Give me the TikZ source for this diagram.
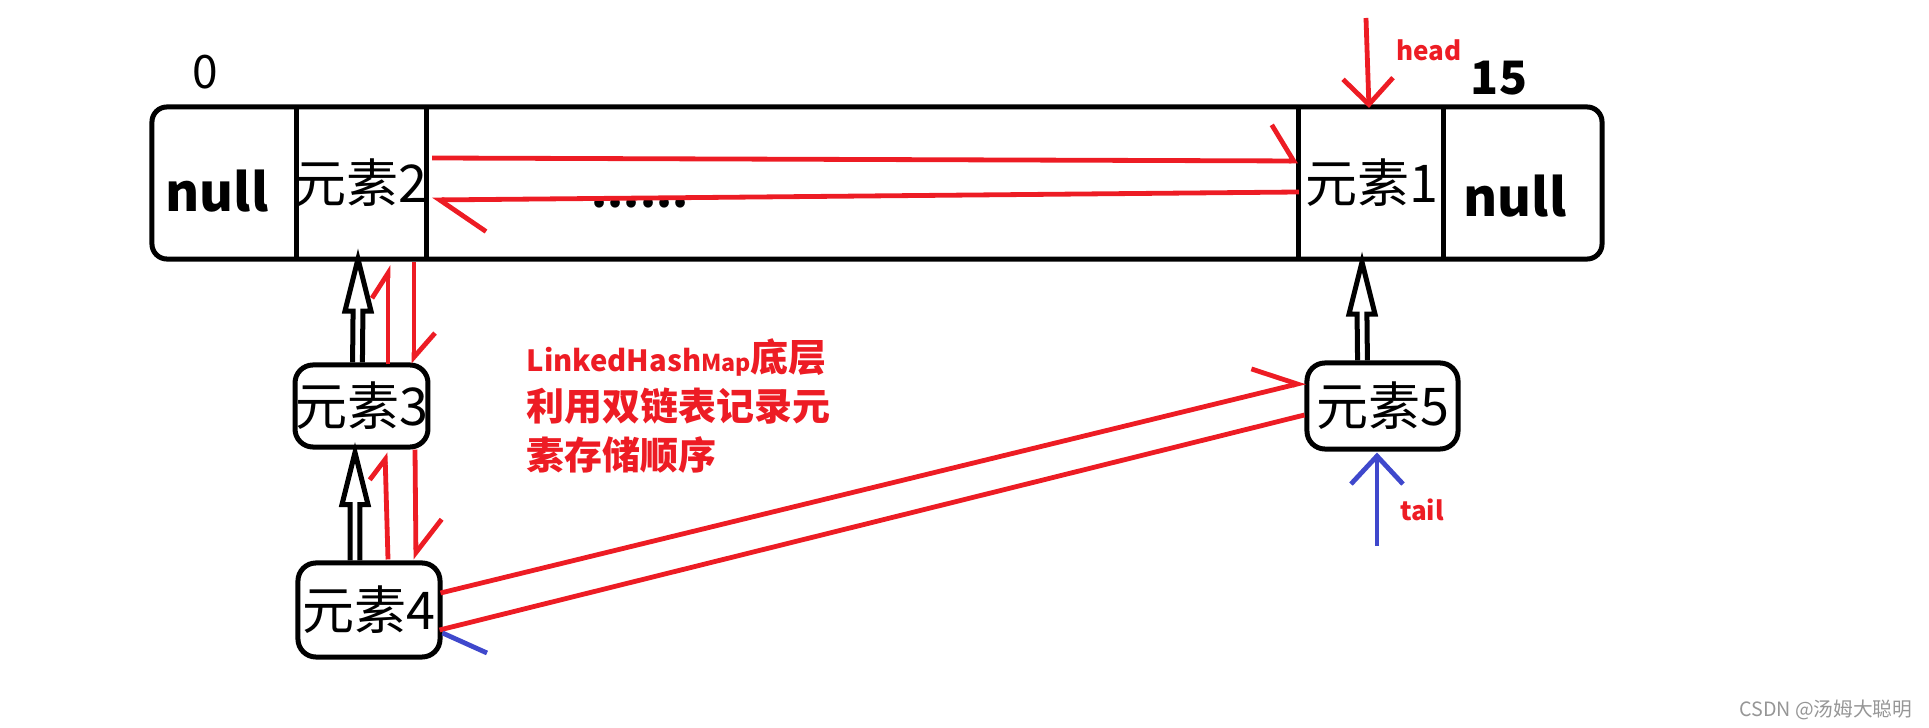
\documentclass[tikz,border=0pt]{standalone}
\usepackage{fontspec}
\setmainfont{Noto Sans CJK SC}
\usetikzlibrary{arrows.meta,calc}

\definecolor{pred}{RGB}{237,28,36}
\definecolor{pblue}{RGB}{63,72,204}
\definecolor{wmgray}{RGB}{150,150,150}

\tikzset{
  frame/.style={draw=black, line width=0.05cm},
  cell/.style={minimum height=1.52cm, inner sep=0pt, outer sep=0pt},
  celltext/.style={inner sep=0pt, font=\fontsize{14.8}{17}\selectfont},
  nulltext/.style={inner sep=0pt, font=\bfseries\fontsize{14.8}{17}\selectfont},
  elembox/.style={frame, rounded corners=0.18cm, inner sep=0pt, font=\fontsize{14.8}{17}\selectfont},
  idxtext/.style={inner sep=0pt, font=\fontsize{13.1}{15}\selectfont},
  linkline/.style={draw=pred, line width=0.048cm},
  tailline/.style={draw=pblue, line width=0.048cm},
  ptrtext/.style={text=pred, inner sep=0pt, font=\bfseries\fontsize{7.4}{9}\selectfont},
  notetext/.style={text=pred, inner sep=0pt, align=left, font=\bfseries\fontsize{10.8}{13.9}\selectfont},
  hollow/.style={frame, to path={let \p1=(\tikztostart), \p2=(\tikztotarget) in
    (\x1-1.4pt,\y1) -- (\x2-1.4pt,\y2-14.8pt) -- (\x2-3.7pt,\y2-14.8pt) -- (\p2)
    -- (\x2+3.7pt,\y2-14.8pt) -- (\x2+1.4pt,\y2-14.8pt) -- (\x1+1.4pt,\y1)}}
}

\begin{document}
\begin{tikzpicture}[x=0.01cm, y=-0.01cm]
\useasboundingbox (0,0) rectangle (1929,728);

% the table
\node[cell, minimum width=1.45cm] (c0) at (224.5,183) {};
\node[cell, minimum width=1.29cm] (c2) at (361.5,183) {};
\node[cell, minimum width=8.73cm] (mid) at (862.5,183) {};
\node[cell, minimum width=1.44cm] (c1) at (1371,183) {};
\node[cell, minimum width=1.59cm] (c15) at (1522.5,183) {};
\draw[frame, rounded corners=0.15cm] (c0.north west) rectangle (c15.south east);
\draw[frame] (c2.north west) -- (c2.south west);
\draw[frame] (c2.north east) -- (c2.south east);
\draw[frame] (c1.north west) -- (c1.south west);
\draw[frame] (c1.north east) -- (c1.south east);

\node[nulltext] (n0) at (217,191) {null};
\node[celltext] (e2) at (361,183) {元素2};
\node[inner sep=0pt, anchor=base, font=\bfseries\fontsize{13}{15}\selectfont] (dots) at (640,208) {......};
\node[celltext] (e1) at (1372,183) {元素1};
\node[nulltext] (n15) at (1515,196) {null};

\node[idxtext] (i0) at (205,72) {0};
\node[idxtext, font=\bfseries\fontsize{13.1}{15}\selectfont] (i15) at (1499,78) {15};

% elements hanging below
\node[elembox, minimum width=1.27cm, minimum height=0.82cm] (e3) at (361.5,406) {元素3};
\node[elembox, minimum width=1.42cm, minimum height=0.94cm] (e4) at (369,610) {元素4};
\node[elembox, minimum width=1.51cm, minimum height=0.86cm] (e5) at (1382.5,406) {元素5};

\draw[hollow] ($(e3.north)+(-4,0)$) to ($(c2.south)+(-3.5,0)$);
\draw[hollow] ($(e4.north)+(-14,0)$) to ($(e3.south)+(-6.5,3)$);
\draw[hollow] ($(e5.north)+(-20,0)$) to ($(c1.south)+(-9,3)$);

% double links
\draw[linkline, -{Straight Barb[left,length=0.22cm,width=0.72cm]}] ($(c2.east)+(6,-25)$) -- ($(c1.west)+(-1,-22)$);
\draw[linkline, -{Straight Barb[left,length=0.46cm,width=0.64cm]}] ($(c1.west)+(0,9)$) -- ($(c2.east)+(6,17)$);
\draw[linkline, -{Straight Barb[left,length=0.25cm,width=0.32cm]}] ($(e3.north)+(26.5,2)$) -- ($(c2.south)+(26.5,6)$);
\draw[linkline, -{Straight Barb[left,length=0.24cm,width=0.42cm]}] ($(c2.south)+(52.5,3)$) -- ($(e3.north)+(52.5,1)$);
\draw[linkline, -{Straight Barb[left,length=0.2cm,width=0.32cm]}] ($(e4.north)+(19,-1)$) -- ($(e3.south)+(23.5,3)$);
\draw[linkline, -{Straight Barb[left,length=0.33cm,width=0.52cm]}] ($(e3.south)+(53.5,0)$) -- ($(e4.north)+(47,-1)$);
\draw[linkline, -{Straight Barb[left,length=0.41cm,width=0.51cm]}] ($(e4.east)+(-2,-17)$) -- ($(e5.west)+(1,-24)$);
\draw[linkline] ($(e5.west)+(0,9)$) -- ($(e4.east)+(-3,20)$);
\coordinate (mark4) at (487,653);
\draw[tailline] ($(e4.east)+(0,23)$) -- (mark4);

% head and tail
\coordinate (headtop) at (1366,18);
\draw[linkline, -{Straight Barb[length=0.26cm,width=0.5cm]}] (headtop) -- ($(c1.north)+(-2,1)$);
\node[ptrtext] (head) at (1429,50) {head};
\coordinate (tailend) at (1377,546);
\draw[tailline, -{Straight Barb[length=0.28cm,width=0.52cm]}] (tailend) -- ($(e5.south)+(-5.5,1)$);
\node[ptrtext] (tail) at (1422,510) {tail};

\node[notetext, anchor=west] (note) at (526,406) {{\fontsize{8.3}{10}\selectfont LinkedHash}{\fontsize{6.6}{8}\selectfont Map}底层\\利用双链表记录元\\素存储顺序};

\node[inner sep=0pt, text=wmgray, anchor=east, font=\fontsize{5.6}{7}\selectfont] (wm) at (1913,710) {CSDN @汤姆大聪明};
\end{tikzpicture}
\end{document}
